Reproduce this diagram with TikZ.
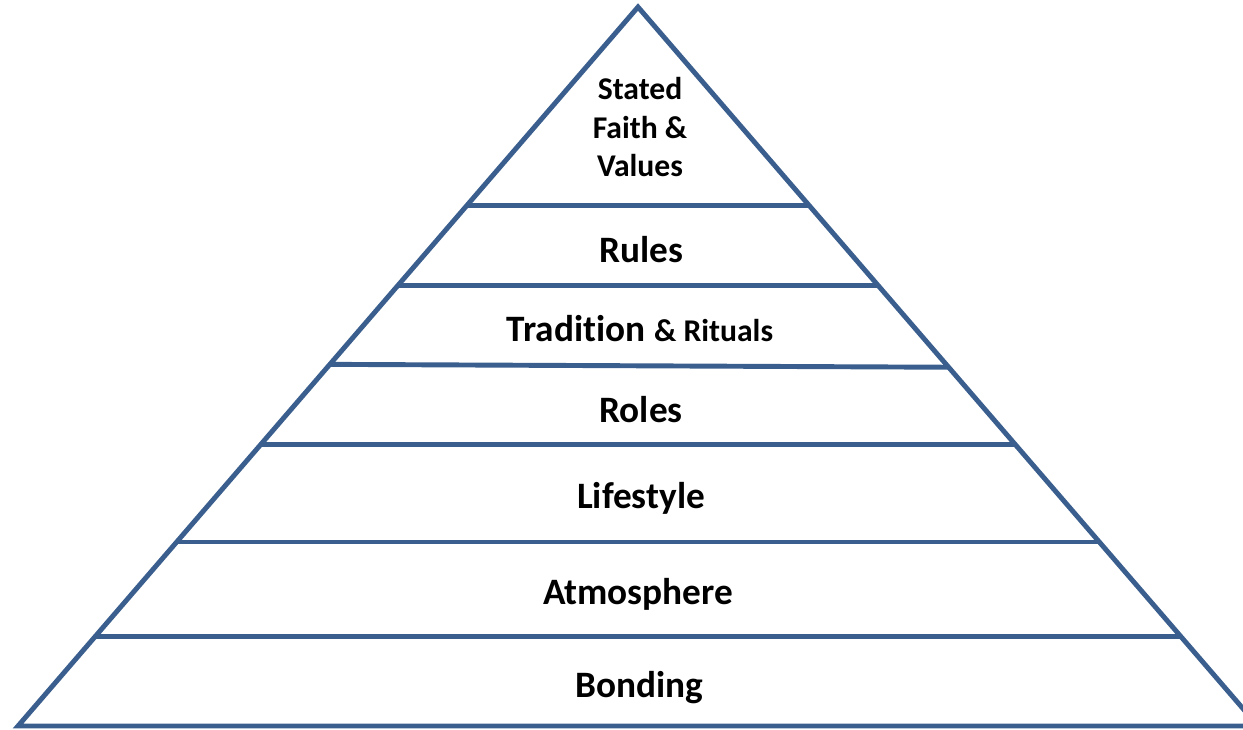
\documentclass[tikz,border=0pt]{standalone}
\usepackage{fontspec}
\setmainfont[Ligatures=NoCommon]{Carlito}
\usepackage{xcolor}
\usetikzlibrary{calc}
\definecolor{pyramidblue}{HTML}{3A5F8E}
\tikzset{
  level/.style={font=\bfseries\fontsize{10.6}{12.7}\selectfont, inner sep=0pt, anchor=base},
  edge/.style={line width=1.4pt, pyramidblue}
}

\begin{document}
\begin{tikzpicture}[x=0.01cm,y=-0.01cm]
  \useasboundingbox (0,0) rectangle (1243,729);
  \clip (0,0) rectangle (1243,729);

  % Define corners of the pyramid
  \coordinate (T) at (638,7); % Apex
  \coordinate (L) at (18,726); % Left base corner
  \coordinate (R) at (1258,726); % Right base corner (off the page)

  % Level boundaries on both sides
  \foreach \name/\a/\b in {one/0.276/0.276, two/0.387/0.387, three/0.497/0.501,
                           four/0.609/0.609, five/0.744/0.744, six/0.876/0.876} {
    \coordinate (\name L) at ($(T)!\a!(L)$);
    \coordinate (\name R) at ($(T)!\b!(R)$);
  }

  % Draw the pyramid
  \draw[edge, line join=miter] (L) -- (T) -- (R) -- cycle;

  % Draw the levels
  \foreach \name in {one,two,three,four,five,six}
    \draw[edge] (\name L) -- (\name R);

  % Label the levels
  \node[font=\bfseries\fontsize{9}{11}\selectfont, align=center, inner sep=0pt] (faith) at (640,127) {Stated\\Faith \&\\Values};
  \node[level] (rules) at (641,262) {Rules};
  \node[level] (tradition) at (640,341) {Tradition {\fontsize{9}{10.8}\selectfont\& Rituals}};
  \node[level] (roles) at (641,422) {Roles};
  \node[level] (lifestyle) at (641,508) {Lifestyle};
  \node[level] (atmosphere) at (638,604) {Atmosphere};
  \node[level] (bonding) at (639,697) {Bonding};
\end{tikzpicture}
\end{document}
